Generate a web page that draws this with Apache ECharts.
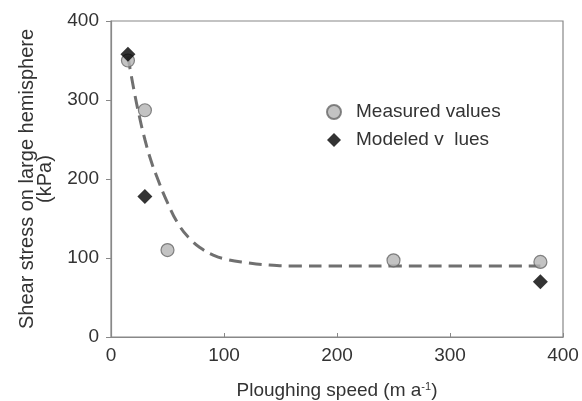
<!DOCTYPE html>
<html>
<head>
<meta charset="utf-8">
<script src="https://cdn.jsdelivr.net/npm/echarts@6/dist/echarts.min.js"></script>
<style>
  html, body { margin: 0; padding: 0; background: #fff; }
  #chart { width: 582px; height: 401px; }
</style>
</head>
<body>
<div id="chart"></div>
<script>
  // values
  const measured = [[15, 350], [30, 287], [50, 110], [250, 97], [380, 95]];
  const modeled = [[15, 358], [30, 178], [380, 70]];
  const fitCurve = [
    [15, 355], [20, 315], [25, 280], [30, 250], [35, 225], [40, 205], [50, 170],
    [60, 142], [70, 124], [80, 112], [90, 104], [100, 99], [120, 94], [140, 91],
    [160, 90], [200, 90], [250, 90], [300, 90], [380, 90]
  ];
  const xTicks = [0, 100, 200, 300, 400];
  const yTicks = [0, 100, 200, 300, 400];

  const font = 'Liberation Sans, Arial, sans-serif';
  const chart = echarts.init(document.getElementById('chart'));
  chart.setOption({
    animation: false,
    grid: {
      left: 111, right: 19, top: 21, bottom: 64,
      outerBoundsMode: 'none',
      show: true, borderColor: '#888', borderWidth: 1.2
    },
    legend: {
      orient: 'vertical',
      left: 321, top: 97,
      itemGap: 8,
      itemWidth: 14, itemHeight: 14,
      textStyle: { fontFamily: font, fontSize: 19, color: '#333', lineHeight: 20, padding: [0, 0, 0, 10] },
      data: [
        { name: 'Measured values', icon: 'circle' },
        { name: 'Modeled v  lues', icon: 'diamond' }
      ]
    },
    xAxis: {
      type: 'value',
      min: xTicks[0], max: xTicks[xTicks.length - 1], interval: 100,
      name: 'Ploughing speed (m a{sup|-1})',
      nameLocation: 'middle', nameGap: 44,
      nameTextStyle: {
        fontFamily: font, fontSize: 19, color: '#333',
        rich: { sup: { fontFamily: font, fontSize: 11, verticalAlign: 'top', padding: [0, 0, 9, 0], color: '#333' } }
      },
      axisLine: { lineStyle: { color: '#888', width: 1.2 } },
      axisTick: { inside: true, length: 4, lineStyle: { color: '#888' } },
      axisLabel: { fontFamily: font, fontSize: 19, color: '#333', margin: 9 },
      splitLine: { show: false }
    },
    yAxis: {
      type: 'value',
      min: yTicks[0], max: yTicks[yTicks.length - 1], interval: 100,
      name: 'Shear stress on large hemisphere\n(kPa)',
      nameLocation: 'middle', nameGap: 57,
      nameTextStyle: { fontFamily: font, fontSize: 20, color: '#333', lineHeight: 18 },
      axisLine: { lineStyle: { color: '#888', width: 1.2 } },
      axisTick: { length: 5, lineStyle: { color: '#888' } },
      axisLabel: { fontFamily: font, fontSize: 19, color: '#333', margin: 12 },
      splitLine: { show: false }
    },
    series: [
      {
        name: 'fit',
        type: 'line',
        data: fitCurve,
        smooth: true,
        showSymbol: false,
        silent: true,
        lineStyle: { color: '#707070', width: 3, type: [13, 7] },
        z: 1
      },
      {
        name: 'Measured values',
        type: 'scatter',
        data: measured,
        symbol: 'circle',
        symbolSize: 13,
        itemStyle: { color: '#b4b4b4', borderColor: '#666', borderWidth: 1.2 },
        z: 2
      },
      {
        name: 'Modeled v  lues',
        type: 'scatter',
        data: modeled,
        symbol: 'diamond',
        symbolSize: 15,
        itemStyle: { color: '#000' },
        z: 3
      }
    ]
  });
</script>
</body>
</html>
